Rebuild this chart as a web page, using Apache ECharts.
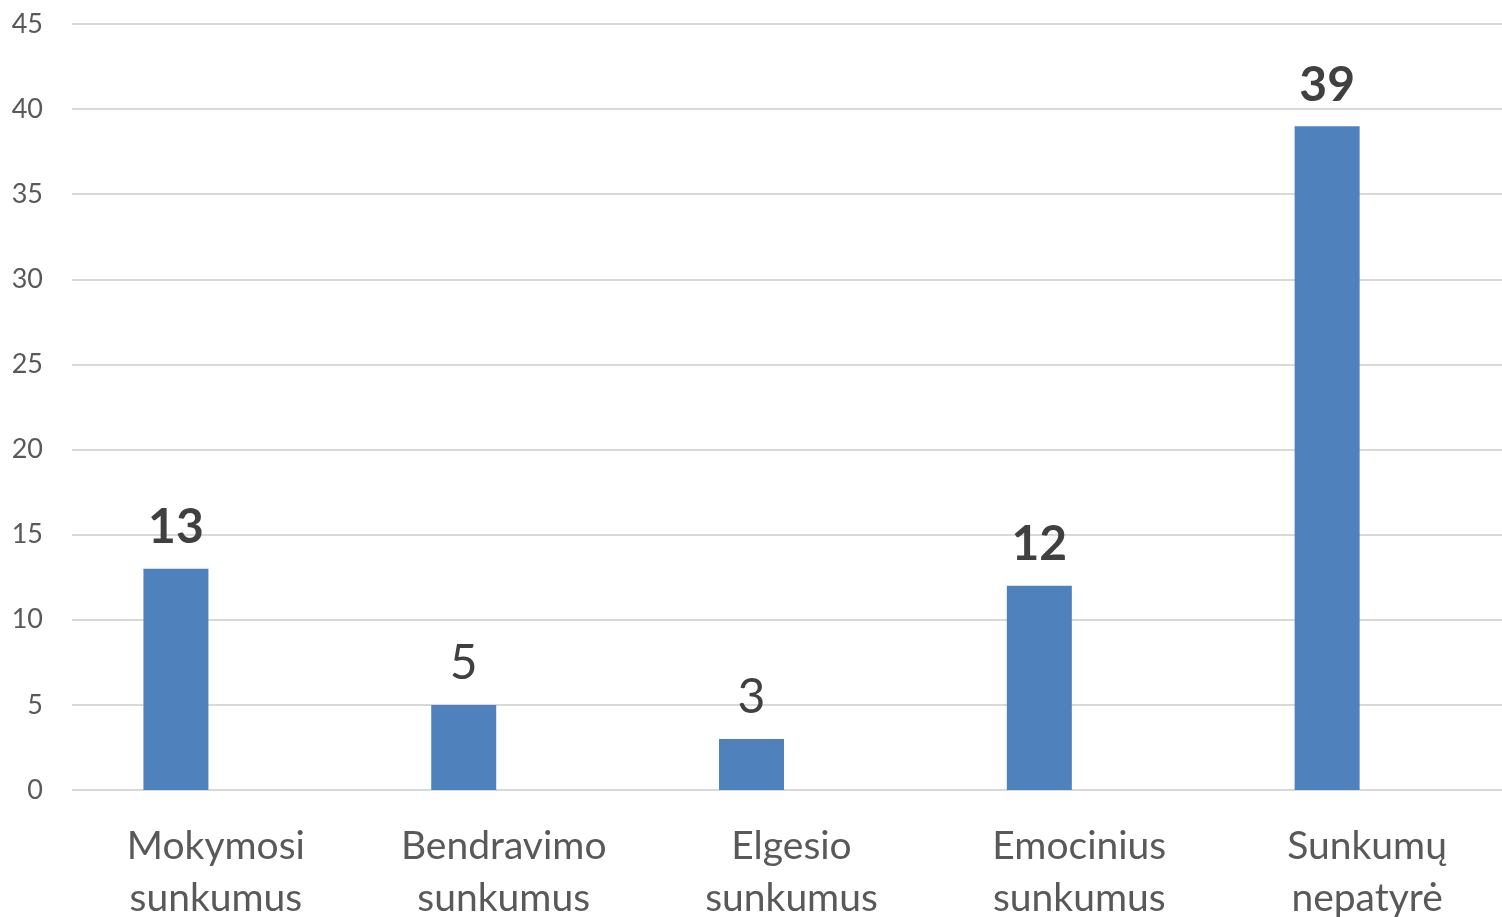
<!DOCTYPE html>
<html>
<head>
<meta charset="utf-8">
<script src="https://cdn.jsdelivr.net/npm/echarts@6/dist/echarts.min.js"></script>
<style>html,body{margin:0;padding:0;background:#fff}#c{width:1502px;height:917px}</style>
</head>
<body>
<div id="c"></div>
<script>
var categories = ['Mokymosi\nsunkumus', 'Bendravimo\nsunkumus', 'Elgesio\nsunkumus', 'Emocinius\nsunkumus', 'Sunkumų\nnepatyrė'];
var values = [13, 5, 3, 12, 39];
var boldLabels = [true, false, false, true, true];
var emptySeries = [null, null, null, null, null];
var yTicks = { min: 0, max: 45, interval: 5 };

var chart = echarts.init(document.getElementById('c'));
var font = 'Lato, "Noto Sans", sans-serif';
chart.setOption({
  animation: false,
  grid: { left: 72, right: -9, top: 24, bottom: 127, containLabel: false, outerBoundsMode: 'none' },
  xAxis: {
    type: 'category',
    data: categories,
    axisLine: { show: false },
    axisTick: { show: false },
    axisLabel: { color: '#595959', fontSize: 39, fontFamily: font, lineHeight: 52, margin: 30, interval: 0 }
  },
  yAxis: {
    type: 'value',
    min: yTicks.min, max: yTicks.max, interval: yTicks.interval,
    axisLine: { show: false },
    axisTick: { show: false },
    splitLine: { lineStyle: { color: '#d9d9d9', width: 2 } },
    axisLabel: { color: '#595959', fontSize: 27, fontFamily: font, margin: 29 }
  },
  series: [
    {
      type: 'bar',
      barWidth: 65,
      barGap: '23%',
      itemStyle: { color: '#4f81bd' },
      data: values.map(function (v, i) {
        return {
          value: v,
          label: {
            show: true, position: 'top', distance: 17,
            color: '#404040', fontFamily: font, fontSize: 48,
            fontWeight: boldLabels[i] ? 'bold' : 'normal'
          }
        };
      })
    },
    { type: 'bar', barWidth: 65, data: emptySeries }
  ]
});
</script>
</body>
</html>
